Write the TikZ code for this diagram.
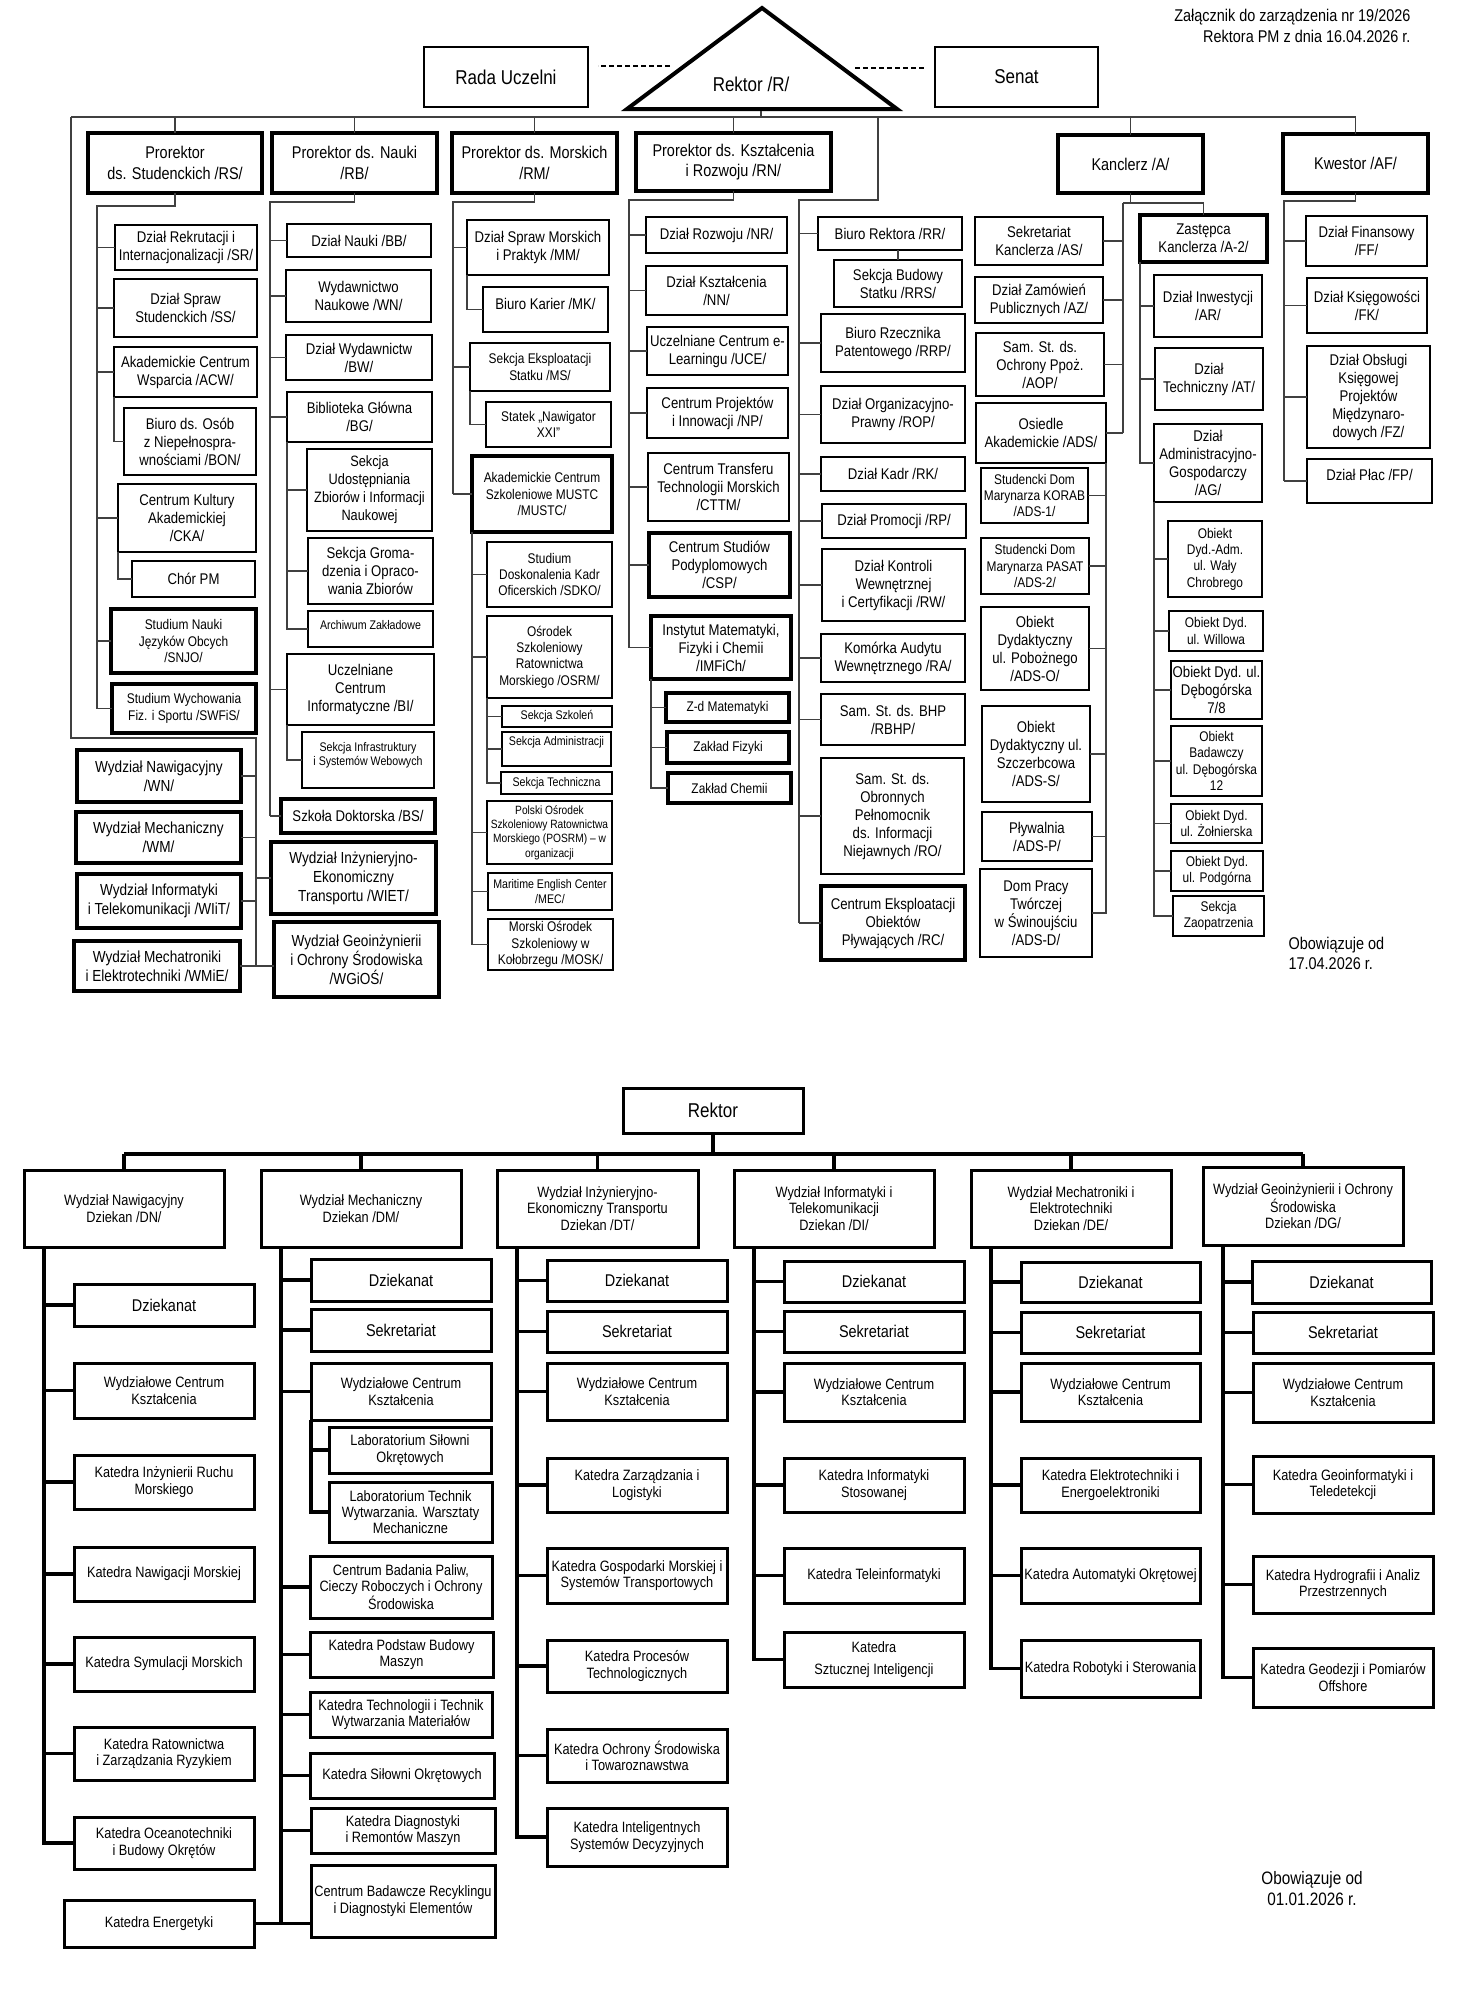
\documentclass[tikz,border=0pt]{standalone}
\usepackage{fontspec}
\setmainfont{Liberation Sans}[FakeStretch=0.85]
\tikzset{
  fn/.style={font=\fontsize{15.5}{18}\selectfont},
  fbig/.style={font=\fontsize{20}{24}\selectfont},
  fpr/.style={font=\fontsize{17}{20.5}\selectfont},
  fw/.style={font=\fontsize{16}{19}\selectfont},
  fsm/.style={font=\fontsize{14}{16.3}\selectfont},
  fxs/.style={font=\fontsize{12.5}{14.5}\selectfont},
  fdz/.style={font=\fontsize{17}{19}\selectfont},
  wh/.style 2 args={minimum width=#1pt, minimum height=#2pt},
  bx/.style={draw, line width=2.2pt, inner sep=0pt, outer sep=0pt, anchor=north west, align=center, fn},
  tbx/.style={bx, line width=4pt},
  dbx/.style={draw, line width=3pt, inner sep=0pt, outer sep=0pt, anchor=north west, align=center, font=\fontsize{15}{16.3}\selectfont},
  lt/.style={anchor=north, align=center, inner sep=0pt, yshift=-#1},
  ln/.style={line width=1.5pt, black!75},
  bl/.style={line width=3.5pt},
  dsh/.style={line width=1.5pt, dash pattern=on 5pt off 3pt},
}
\begin{document}
\begin{tikzpicture}[x=1pt, y=-1pt]
\useasboundingbox (0,0) rectangle (1476,2000);

% ---------- top chart ----------
\node[anchor=north east, align=right, font=\fontsize{17}{21}\selectfont] (hdr) at (1414,6)
  {Załącznik do zarządzenia nr 19/2026\\Rektora PM z dnia 16.04.2026 r.};

\node[bx, fbig, wh={164}{60}] (rada) at (424,47) {Rada Uczelni};
\node[bx, fbig, wh={163}{60}] (senat) at (935,47) {Senat};
\coordinate (rTop) at (762,8);
\coordinate (rLft) at (627,109);
\coordinate (rRgt) at (897,109);
\draw[line width=4pt] (rTop) -- (rLft) -- (rRgt) -- cycle;
\node[fbig] (rektor) at (751,84) {Rektor /R/};
\coordinate (rBase) at (761,111);
\coordinate (dL) at (670,66);
\coordinate (dR) at (855,68);
\draw[dsh] (dL) -- ++(-72,0);
\draw[dsh] (dR) -- ++(70,0);

\node[tbx, fpr, wh={174}{60}] (rs) at (88,133) {Prorektor\\ds. Studenckich /RS/};
\node[tbx, fpr, wh={165}{60}] (rb) at (272,133) {Prorektor ds. Nauki\\/RB/};
\node[tbx, fpr, wh={165}{60}] (rm) at (452,133) {Prorektor ds. Morskich\\/RM/};
\node[tbx, fpr, wh={195}{58}] (rn) at (636,133) {Prorektor ds. Kształcenia\\i Rozwoju /RN/};
\node[tbx, fpr, wh={145}{58}] (ka) at (1058,135) {Kanclerz /A/};
\node[tbx, fpr, wh={145}{59}] (af) at (1283,134) {Kwestor /AF/};

% prorektor ds. studenckich
\node[bx, wh={142}{45}] (sr) at (115,225) {Dział Rekrutacji i\\Internacjonalizacji /SR/};
\node[bx, wh={143}{58}] (ss) at (114,279) {Dział Spraw\\Studenckich /SS/};
\node[bx, wh={143}{50}] (acw) at (114,347) {Akademickie Centrum\\Wsparcia /ACW/};
\node[bx, wh={132}{67}] (bon) at (124,408) {Biuro ds. Osób\\z Niepełnospra-\\wnościami /BON/};
\node[bx, wh={138}{68}] (cka) at (118,484) {Centrum Kultury\\Akademickiej\\/CKA/};
\node[bx, wh={123}{36}] (chor) at (132,561) {Chór PM};
\node[tbx, fsm, wh={145}{64}] (snjo) at (111,609) {Studium Nauki\\Języków Obcych\\/SNJO/};
\node[tbx, fsm, wh={144}{49}] (swfis) at (112,684) {Studium Wychowania\\Fiz. i Sportu /SWFiS/};

% prorektor ds. nauki
\node[bx, wh={144}{33}] (bb) at (287,224) {Dział Nauki /BB/};
\node[bx, wh={145}{52}] (wyd) at (286,270) {Wydawnictwo\\Naukowe /WN/};
\node[bx, wh={146}{45}] (bw) at (286,335) {Dział Wydawnictw\\/BW/};
\node[bx, wh={145}{50}] (bg) at (287,392) {Biblioteka Główna\\/BG/};
\node[bx, font=\fontsize{15}{18}\selectfont, wh={125}{82}] (suz) at (307,449) {Sekcja\\Udostępniania\\Zbiorów i Informacji\\Naukowej};
\node[bx, wh={125}{66}] (sgo) at (308,538) {Sekcja Groma-\\dzenia i Opraco-\\wania Zbiorów};
\node[bx, wh={125}{36}, label={[lt=9pt, fxs]north:Archiwum Zakładowe}] (arch) at (308,611) {};
\node[bx, wh={147}{71}] (bi) at (287,654) {Uczelniane\\Centrum\\Informatyczne /BI/};
\node[bx, wh={132}{56}, label={[lt=10pt, fxs]north:{Sekcja Infrastruktury\\i Systemów Webowych}}] (sisw) at (302,732) {};
\node[tbx, wh={154}{34}] (bs) at (281,799) {Szkoła Doktorska /BS/};

% wydzialy
\node[tbx, fw, wh={164}{52}] (wn) at (77,750) {Wydział Nawigacyjny\\/WN/};
\node[tbx, fw, wh={165}{51}] (wm) at (76,812) {Wydział Mechaniczny\\/WM/};
\node[tbx, fw, wh={164}{54}] (wiit) at (77,874) {Wydział Informatyki\\i Telekomunikacji /WIiT/};
\node[tbx, fw, wh={166}{50}] (wmie) at (74,941) {Wydział Mechatroniki\\i Elektrotechniki /WMiE/};
\node[tbx, fw, wh={165}{72}] (wiet) at (271,842) {Wydział Inżynieryjno-\\Ekonomiczny\\Transportu /WIET/};
\node[tbx, fw, wh={165}{75}] (wgios) at (274,922) {Wydział Geoinżynierii\\i Ochrony Środowiska\\/WGiOŚ/};

% prorektor ds. morskich
\node[bx, wh={142}{55}] (mm) at (467,220) {Dział Spraw Morskich\\i Praktyk /MM/};
\node[bx, wh={125}{45}, label={[lt=11pt, fn]north:Biuro Karier /MK/}] (mk) at (483,287) {};
\node[bx, fsm, wh={140}{48}] (ms) at (470,343) {Sekcja Eksploatacji\\Statku /MS/};
\node[bx, fsm, wh={125}{45}] (sn) at (486,402) {Statek „Nawigator\\XXI”};
\node[tbx, fsm, wh={140}{76}] (mustc) at (472,456) {Akademickie Centrum\\Szkoleniowe MUSTC\\/MUSTC/};
\node[bx, fsm, wh={125}{65}] (sdko) at (487,542) {Studium\\Doskonalenia Kadr\\Oficerskich /SDKO/};
\node[bx, fsm, wh={125}{82}] (osrm) at (487,616) {Ośrodek\\Szkoleniowy\\Ratownictwa\\Morskiego /OSRM/};
\node[bx, fxs, wh={110}{21}] (ssz) at (502,706) {Sekcja Szkoleń};
\node[bx, wh={109}{34}, label={[lt=4pt, fxs]north:Sekcja Administracji}] (sa) at (502,732) {};
\node[bx, fxs, wh={111}{22}] (st) at (501,772) {Sekcja Techniczna};
\node[bx, font=\fontsize{12}{14.4}\selectfont, wh={125}{63}] (posrm) at (487,801) {Polski Ośrodek\\Szkoleniowy Ratownictwa\\Morskiego (POSRM) – w\\organizacji};
\node[bx, fxs, wh={124}{37}] (mec) at (488,873) {Maritime English Center\\/MEC/};
\node[bx, fsm, wh={125}{51}] (mosk) at (488,919) {Morski Ośrodek\\Szkoleniowy w\\Kołobrzegu /MOSK/};

% prorektor ds. ksztalcenia
\node[bx, wh={141}{36}] (nr) at (646,217) {Dział Rozwoju /NR/};
\node[bx, wh={141}{49}] (nn) at (646,266) {Dział Kształcenia\\/NN/};
\node[bx, wh={141}{48}] (uce) at (647,327) {Uczelniane Centrum e-\\Learningu /UCE/};
\node[bx, wh={141}{50}] (np) at (647,388) {Centrum Projektów\\i Innowacji /NP/};
\node[bx, wh={141}{68}] (cttm) at (648,453) {Centrum Transferu\\Technologii Morskich\\/CTTM/};
\node[tbx, wh={141}{64}] (csp) at (649,533) {Centrum Studiów\\Podyplomowych\\/CSP/};
\node[tbx, wh={140}{63}] (imfich) at (651,616) {Instytut Matematyki,\\Fizyki i Chemii\\/IMFiCh/};
\node[tbx, fsm, wh={123}{29}] (zm) at (666,693) {Z-d Matematyki};
\node[tbx, fsm, wh={122}{31}] (zf) at (667,732) {Zakład Fizyki};
\node[tbx, fsm, wh={123}{30}] (zc) at (668,773) {Zakład Chemii};

% biuro rektora
\node[bx, wh={144}{33}] (rr) at (818,217) {Biuro Rektora /RR/};
\node[bx, wh={128}{47}] (rrs) at (834,260) {Sekcja Budowy\\Statku /RRS/};
\node[bx, wh={144}{58}] (rrp) at (821,314) {Biuro Rzecznika\\Patentowego /RRP/};
\node[bx, wh={144}{57}] (rop) at (821,386) {Dział Organizacyjno-\\Prawny /ROP/};
\node[bx, wh={144}{34}] (rk) at (821,457) {Dział Kadr /RK/};
\node[bx, wh={144}{34}] (rp) at (822,504) {Dział Promocji /RP/};
\node[bx, wh={143}{72}] (rw) at (822,549) {Dział Kontroli\\Wewnętrznej\\i Certyfikacji /RW/};
\node[bx, wh={144}{48}] (ra) at (821,634) {Komórka Audytu\\Wewnętrznego /RA/};
\node[bx, wh={144}{51}] (rbhp) at (821,694) {Sam. St. ds. BHP\\/RBHP/};
\node[bx, wh={143}{116}] (ro) at (821,758) {Sam. St. ds.\\Obronnych\\Pełnomocnik\\ds. Informacji\\Niejawnych /RO/};
\node[tbx, wh={144}{74}] (rc) at (821,886) {Centrum Eksploatacji\\Obiektów\\Pływających /RC/};

% kanclerz
\node[bx, wh={128}{48}] (kAS) at (975,217) {Sekretariat\\Kanclerza /AS/};
\node[bx, wh={128}{46}] (kAZ) at (975,277) {Dział Zamówień\\Publicznych /AZ/};
\node[bx, wh={128}{63}] (kAOP) at (976,333) {Sam. St. ds.\\Ochrony Ppoż.\\/AOP/};
\node[bx, wh={130}{60}] (kADS) at (976,403) {Osiedle\\Akademickie /ADS/};
\node[bx, fsm, wh={107}{55}] (ads1) at (981,468) {Studencki Dom\\Marynarza KORAB\\/ADS-1/};
\node[bx, fsm, wh={108}{56}] (ads2) at (981,538) {Studencki Dom\\Marynarza PASAT\\/ADS-2/};
\node[bx, wh={108}{83}] (adsO) at (981,607) {Obiekt\\Dydaktyczny\\ul. Pobożnego\\/ADS-O/};
\node[bx, wh={108}{96}] (adsS) at (982,706) {Obiekt\\Dydaktyczny ul.\\Szczerbcowa\\/ADS-S/};
\node[bx, wh={110}{49}] (adsP) at (982,812) {Pływalnia\\/ADS-P/};
\node[bx, wh={112}{88}] (adsD) at (980,869) {Dom Pracy\\Twórczej\\w Świnoujściu\\/ADS-D/};
\node[tbx, wh={127}{47}] (zk) at (1140,215) {Zastępca\\Kanclerza /A-2/};
\node[bx, wh={108}{62}] (kAR) at (1154,275) {Dział Inwestycji\\/AR/};
\node[bx, wh={108}{62}] (kAT) at (1155,348) {Dział\\Techniczny /AT/};
\node[bx, wh={108}{78}] (kAG) at (1154,424) {Dział\\Administracyjno-\\Gospodarczy\\/AG/};
\node[bx, fsm, wh={94}{76}] (o1) at (1168,521) {Obiekt\\Dyd.-Adm.\\ul. Wały\\Chrobrego};
\node[bx, fsm, wh={94}{40}] (o2) at (1169,611) {Obiekt Dyd.\\ul. Willowa};
\node[bx, wh={91}{58}] (o3) at (1171,661) {Obiekt Dyd. ul.\\Dębogórska\\7/8};
\node[bx, fsm, wh={91}{70}] (o4) at (1171,726) {Obiekt\\Badawczy\\ul. Dębogórska\\12};
\node[bx, fsm, wh={91}{39}] (o5) at (1171,804) {Obiekt Dyd.\\ul. Żołnierska};
\node[bx, fsm, wh={92}{40}] (o6) at (1171,851) {Obiekt Dyd.\\ul. Podgórna};
\node[bx, fsm, wh={91}{40}] (sz) at (1173,896) {Sekcja\\Zaopatrzenia};

% kwestor
\node[bx, wh={121}{50}] (ff) at (1306,216) {Dział Finansowy\\/FF/};
\node[bx, wh={120}{55}] (fk) at (1307,278) {Dział Księgowości\\/FK/};
\node[bx, wh={123}{102}] (fz) at (1307,346) {Dział Obsługi\\Księgowej\\Projektów\\Międzynaro-\\dowych /FZ/};
\node[bx, wh={125}{44}, label={[lt=10pt, fn]north:Dział Płac /FP/}] (fp) at (1307,459) {};

\node[anchor=west, align=left, font=\fontsize{17}{20}\selectfont] (obow1) at (1285,953) {Obowiązuje od\\17.04.2026 r.};

% top connectors
\coordinate (mL) at (71,117);
\draw[ln] (mL) -- (af.north |- mL);
\draw[ln] (rBase) -- (rBase |- mL);
\foreach \n in {rs,rb,rm,rn,ka,af} \draw[ln] (\n.north) -- (\n.north |- mL);

\coordinate (wT) at (256,738);
\draw[ln] (mL) |- (wT) -- (wT |- wmie.east);
\foreach \n in {wn,wm,wiit,wmie} \draw[ln] (wT |- \n.east) -- (\n.east);
\draw[ln] (wT |- wiet.west) -- (wiet.west);
\draw[ln] (wT |- wmie.east) -- (wgios.west |- wmie.east);

\coordinate (rsT) at (97,206);
\draw[ln] (rs.south) |- (rsT) -- (rsT |- swfis.west);
\foreach \n in {sr,ss,acw,cka,snjo,swfis} \draw[ln] (rsT |- \n.west) -- (\n.west);
\draw[ln] (acw.south west) |- (bon.west);
\draw[ln] (cka.south west) |- (chor.west);

\coordinate (rbT) at (270,202);
\draw[ln] (rb.south) |- (rbT) -- (rbT |- bs.west);
\foreach \n in {bb,wyd,bw,bg,bi,bs} \draw[ln] (rbT |- \n.west) -- (\n.west);
\draw[ln] (bg.south west) |- (arch.west);
\foreach \n in {suz,sgo} \draw[ln] (bg.south west |- \n.west) -- (\n.west);
\draw[ln] (bi.south west) |- (sisw.west);

\coordinate (rmT) at (453,202);
\draw[ln] (rm.south) |- (rmT) -- (rmT |- mustc.west);
\foreach \n in {mm,ms,mustc} \draw[ln] (rmT |- \n.west) -- (\n.west);
\draw[ln] (mm.south west) |- (mk.west);
\draw[ln] (ms.south west) |- (sn.west);
\draw[ln] (mustc.south west) |- (mosk.west);
\foreach \n in {sdko,osrm,posrm,mec} \draw[ln] (mustc.south west |- \n.west) -- (\n.west);
\draw[ln] (osrm.south west) |- (st.west);
\foreach \n in {ssz,sa} \draw[ln] (osrm.south west |- \n.west) -- (\n.west);

\coordinate (rnT) at (629,200);
\draw[ln] (rn.south) |- (rnT) -- (rnT |- imfich.west);
\foreach \n in {nr,nn,uce,np,cttm,csp,imfich} \draw[ln] (rnT |- \n.west) -- (\n.west);
\draw[ln] (imfich.south west) |- (zc.west);
\foreach \n in {zm,zf} \draw[ln] (imfich.south west |- \n.west) -- (\n.west);

\coordinate (rrTop) at (878,117);
\coordinate (rrT) at (799,200);
\draw[ln] (rrTop) |- (rrT) -- (rrT |- rc.west);
\foreach \n in {rr,rrp,rop,rk,rp,rw,ra,rbhp,ro,rc} \draw[ln] (rrT |- \n.west) -- (\n.west);
\draw[ln] (rr.south -| rrs.north) -- (rrs.north);

\coordinate (kaT) at (1123,203);
\draw[ln] (ka.south) -- (ka.south |- kaT);
\draw[ln] (kaT) -| (zk.north);
\draw[ln] (kaT) -- (kaT |- kADS.east);
\foreach \n in {kAS,kAZ,kAOP,kADS} \draw[ln] (kaT |- \n.east) -- (\n.east);
\draw[ln] (kADS.south east) |- (adsD.east);
\foreach \n in {ads1,ads2,adsO,adsS,adsP} \draw[ln] (kADS.south east |- \n.east) -- (\n.east);
\draw[ln] (zk.south west) |- (kAG.west);
\foreach \n in {kAR,kAT} \draw[ln] (zk.south west |- \n.west) -- (\n.west);
\draw[ln] (kAG.south west) |- (sz.west);
\foreach \n in {o1,o2,o3,o4,o5,o6} \draw[ln] (kAG.south west |- \n.west) -- (\n.west);

\coordinate (afT) at (1284,201);
\draw[ln] (af.south) |- (afT) -- (afT |- fp.west);
\foreach \n in {ff,fk,fz,fp} \draw[ln] (afT |- \n.west) -- (\n.west);

% ---------- bottom chart ----------
\node[dbx, fbig, wh={180}{45}] (rek) at (623,1088) {Rektor};
\node[dbx, wh={200}{77}] (dn) at (24,1170) {Wydział Nawigacyjny\\Dziekan /DN/};
\node[dbx, wh={200}{77}] (dm) at (261,1170) {Wydział Mechaniczny\\Dziekan /DM/};
\node[dbx, wh={201}{77}] (dt) at (497,1170) {Wydział Inżynieryjno-\\Ekonomiczny Transportu\\Dziekan /DT/};
\node[dbx, wh={200}{77}] (di) at (734,1170) {Wydział Informatyki i\\Telekomunikacji\\Dziekan /DI/};
\node[dbx, wh={200}{77}] (de) at (971,1170) {Wydział Mechatroniki i\\Elektrotechniki\\Dziekan /DE/};
\node[dbx, wh={200}{78}] (dg) at (1203,1167) {Wydział Geoinżynierii i Ochrony\\Środowiska\\Dziekan /DG/};

\node[dbx, fdz, wh={180}{42}] (dnDz) at (74,1284) {Dziekanat};
\node[dbx, wh={180}{55}] (dnW) at (74,1363) {Wydziałowe Centrum\\Kształcenia};
\node[dbx, wh={180}{54}] (dnK1) at (74,1455) {Katedra Inżynierii Ruchu\\Morskiego};
\node[dbx, wh={180}{54}] (dnK2) at (74,1547) {Katedra Nawigacji Morskiej};
\node[dbx, wh={180}{54}] (dnK3) at (74,1637) {Katedra Symulacji Morskich};
\node[dbx, wh={180}{53}] (dnK4) at (74,1727) {Katedra Ratownictwa\\i Zarządzania Ryzykiem};
\node[dbx, wh={180}{52}] (dnK5) at (74,1817) {Katedra Oceanotechniki\\i Budowy Okrętów};
\node[dbx, wh={190}{47}] (dnK6) at (64,1900) {Katedra Energetyki};

\node[dbx, fdz, wh={180}{42}] (dmDz) at (311,1259) {Dziekanat};
\node[dbx, fdz, wh={180}{42}] (dmS) at (311,1309) {Sekretariat};
\node[dbx, wh={180}{57}] (dmW) at (311,1363) {Wydziałowe Centrum\\Kształcenia};
\node[dbx, wh={162}{46}] (dmL1) at (329,1427) {Laboratorium Siłowni\\Okrętowych};
\node[dbx, wh={163}{60}] (dmL2) at (329,1482) {Laboratorium Technik\\Wytwarzania. Warsztaty\\Mechaniczne};
\node[dbx, wh={182}{62}] (dmC1) at (310,1556) {Centrum Badania Paliw,\\Cieczy Roboczych i Ochrony\\Środowiska};
\node[dbx, wh={183}{45}] (dmK1) at (310,1632) {Katedra Podstaw Budowy\\Maszyn};
\node[dbx, wh={182}{45}] (dmK2) at (310,1692) {Katedra Technologii i Technik\\Wytwarzania Materiałów};
\node[dbx, wh={184}{45}] (dmK3) at (310,1753) {Katedra Siłowni Okrętowych};
\node[dbx, wh={184}{45}] (dmK4) at (311,1808) {Katedra Diagnostyki\\i Remontów Maszyn};
\node[dbx, wh={184}{72}] (dmC2) at (311,1865) {Centrum Badawcze Recyklingu\\i Diagnostyki Elementów};

\node[dbx, fdz, wh={180}{41}] (dtDz) at (547,1260) {Dziekanat};
\node[dbx, fdz, wh={180}{41}] (dtS) at (547,1311) {Sekretariat};
\node[dbx, wh={180}{57}] (dtW) at (547,1363) {Wydziałowe Centrum\\Kształcenia};
\node[dbx, wh={180}{54}] (dtK1) at (547,1458) {Katedra Zarządzania i\\Logistyki};
\node[dbx, wh={180}{55}] (dtK2) at (547,1548) {Katedra Gospodarki Morskiej i\\Systemów Transportowych};
\node[dbx, wh={180}{52}] (dtK3) at (547,1640) {Katedra Procesów\\Technologicznych};
\node[dbx, wh={180}{53}] (dtK4) at (547,1729) {Katedra Ochrony Środowiska\\i Towaroznawstwa};
\node[dbx, wh={180}{58}] (dtK5) at (547,1808) {Katedra Inteligentnych\\Systemów Decyzyjnych};

\node[dbx, fdz, wh={180}{41}] (diDz) at (784,1261) {Dziekanat};
\node[dbx, fdz, wh={180}{41}] (diS) at (784,1311) {Sekretariat};
\node[dbx, wh={180}{58}] (diW) at (784,1363) {Wydziałowe Centrum\\Kształcenia};
\node[dbx, wh={180}{54}] (diK1) at (784,1458) {Katedra Informatyki\\Stosowanej};
\node[dbx, wh={180}{55}] (diK2) at (784,1548) {Katedra Teleinformatyki};
\node[dbx, wh={180}{55}] (diK3) at (784,1632) {Katedra\\[6pt]Sztucznej Inteligencji};

\node[dbx, fdz, wh={179}{40}] (deDz) at (1021,1262) {Dziekanat};
\node[dbx, fdz, wh={179}{41}] (deS) at (1021,1312) {Sekretariat};
\node[dbx, wh={179}{58}] (deW) at (1021,1363) {Wydziałowe Centrum\\Kształcenia};
\node[dbx, wh={179}{54}] (deK1) at (1021,1458) {Katedra Elektrotechniki i\\Energoelektroniki};
\node[dbx, wh={179}{55}] (deK2) at (1021,1548) {Katedra Automatyki Okrętowej};
\node[dbx, wh={179}{57}] (deK3) at (1021,1640) {Katedra Robotyki i Sterowania};

\node[dbx, fdz, wh={179}{42}] (dgDz) at (1252,1261) {Dziekanat};
\node[dbx, fdz, wh={180}{41}] (dgS) at (1253,1312) {Sekretariat};
\node[dbx, wh={180}{59}] (dgW) at (1253,1363) {Wydziałowe Centrum\\Kształcenia};
\node[dbx, wh={180}{57}] (dgK1) at (1253,1456) {Katedra Geoinformatyki i\\Teledetekcji};
\node[dbx, wh={180}{57}] (dgK2) at (1253,1556) {Katedra Hydrografii i Analiz\\Przestrzennych};
\node[dbx, wh={180}{59}] (dgK3) at (1253,1648) {Katedra Geodezji i Pomiarów\\Offshore};

\node[align=center, font=\fontsize{18}{21}\selectfont] (obow2) at (1312,1889) {Obowiązuje od\\01.01.2026 r.};

% bottom connectors
\coordinate (bH) at (126,1154);
\draw[bl] (rek.south) -- (rek.south |- bH);
\draw[bl] (dn.north |- bH) -- (dg.north |- bH);
\foreach \n in {dn,dm,dt,di,de,dg} \draw[bl] (\n.north |- bH) -- (\n.north);

\coordinate (dnT) at ([xshift=20pt]dn.south west);
\draw[bl] (dnT) |- (dnK5.west);
\foreach \n in {dnDz,dnW,dnK1,dnK2,dnK3,dnK4} \draw[bl] (dnT |- \n.west) -- (\n.west);

\coordinate (dmT) at ([xshift=20pt]dm.south west);
\draw[bl] (dmT) -- (dmT |- dnK6.east);
\draw[bl] (dnK6.east) -- (dnK6.east -| dmC2.west);
\foreach \n in {dmDz,dmS,dmW,dmC1,dmK1,dmK2,dmK3,dmK4} \draw[bl] (dmT |- \n.west) -- (\n.west);
\draw[bl] (dmW.south west) |- (dmL2.west);
\draw[bl] (dmW.south west |- dmL1.west) -- (dmL1.west);

\coordinate (dtT) at ([xshift=20pt]dt.south west);
\draw[bl] (dtT) |- (dtK5.west);
\foreach \n in {dtDz,dtS,dtW,dtK1,dtK2,dtK3,dtK4} \draw[bl] (dtT |- \n.west) -- (\n.west);

\coordinate (diT) at ([xshift=20pt]di.south west);
\draw[bl] (diT) |- (diK3.west);
\foreach \n in {diDz,diS,diW,diK1,diK2} \draw[bl] (diT |- \n.west) -- (\n.west);

\coordinate (deT) at ([xshift=20pt]de.south west);
\draw[bl] (deT) |- (deK3.west);
\foreach \n in {deDz,deS,deW,deK1,deK2} \draw[bl] (deT |- \n.west) -- (\n.west);

\coordinate (dgT) at ([xshift=20pt]dg.south west);
\draw[bl] (dgT) |- (dgK3.west);
\foreach \n in {dgDz,dgS,dgW,dgK1,dgK2} \draw[bl] (dgT |- \n.west) -- (\n.west);
\end{tikzpicture}
\end{document}
